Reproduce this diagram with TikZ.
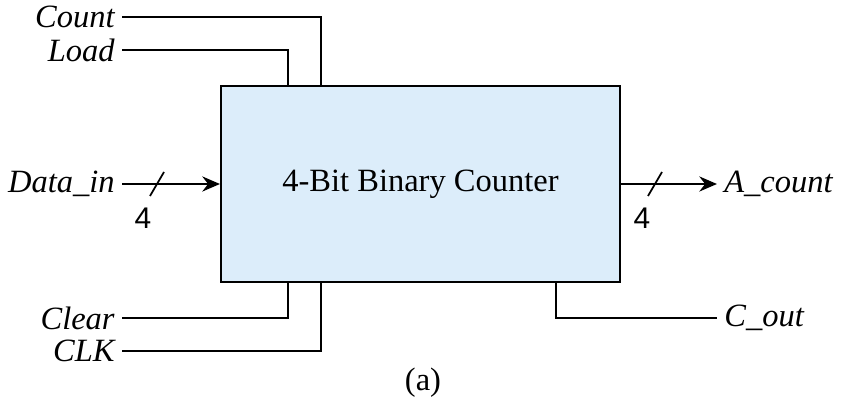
\documentclass[tikz,border=0pt]{standalone}
\usepackage{fontspec}
\setmainfont{Liberation Serif}
\setsansfont{Liberation Sans}
\usetikzlibrary{arrows.meta}
\definecolor{boxblue}{RGB}{220,237,250}
\tikzset{
	sig/.style={font=\fontsize{18.5}{22}\selectfont\itshape, inner sep=4pt},
	width/.style={font=\fontsize{17}{20}\selectfont\sffamily},
	wire/.style={line width=.8pt},
	bus/.style={line width=1.7pt, -{Stealth[length=10pt,width=8.5pt]}},
}
\begin{document}
\begin{tikzpicture}[x=.02cm,y=-.02cm,font=\fontsize{18.5}{22}\selectfont]
				\useasboundingbox (0,0) rectangle (843,408);
				\node[draw, line width=1.2pt, fill=boxblue, minimum width=7.98cm, minimum height=3.92cm] (cnt) at (420.5,184) {4-Bit Binary Counter};
				% inputs on the left
				\node[sig, anchor=east] (count) at (122,17) {Count};
				\node[sig, anchor=east] (load) at (122,50) {Load};
				\node[sig, anchor=east] (din) at (122,184) {Data\_in};
				\node[sig, anchor=east] (clear) at (122,318) {Clear};
				\node[sig, anchor=east] (clk) at (122,351) {CLK};
				% outputs on the right
				\node[sig, anchor=west] (acount) at (717,184) {A\_count};
				\node[sig, anchor=west] (cout) at (717,318) {C\_out};
				\coordinate (cntin) at (321,86);
				\coordinate (ldin) at (288,86);
				\coordinate (clrin) at (288,282);
				\coordinate (clkin) at (321,282);
				\coordinate (coutsrc) at (556,282);
				\draw[wire] (count) -| (cntin);
				\draw[wire] (load) -| (ldin);
				\draw[wire] (clear) -| (clrin);
				\draw[wire] (clk) -| (clkin);
				\draw[wire] (coutsrc) |- (cout);
				% buses
				\draw[bus] (din) -- (cnt.west);
				\draw[bus] (cnt.east) -- (acount);
				\draw[line width=1pt] (150,196) -- (164,172);
				\draw[line width=1pt] (648,196) -- (662,172);
				\node[width] (nin) at (143,218) {4};
				\node[width] (nout) at (642,218) {4};
				\node (cap) at (423,383) {(a)};
			\end{tikzpicture}
\end{document}
